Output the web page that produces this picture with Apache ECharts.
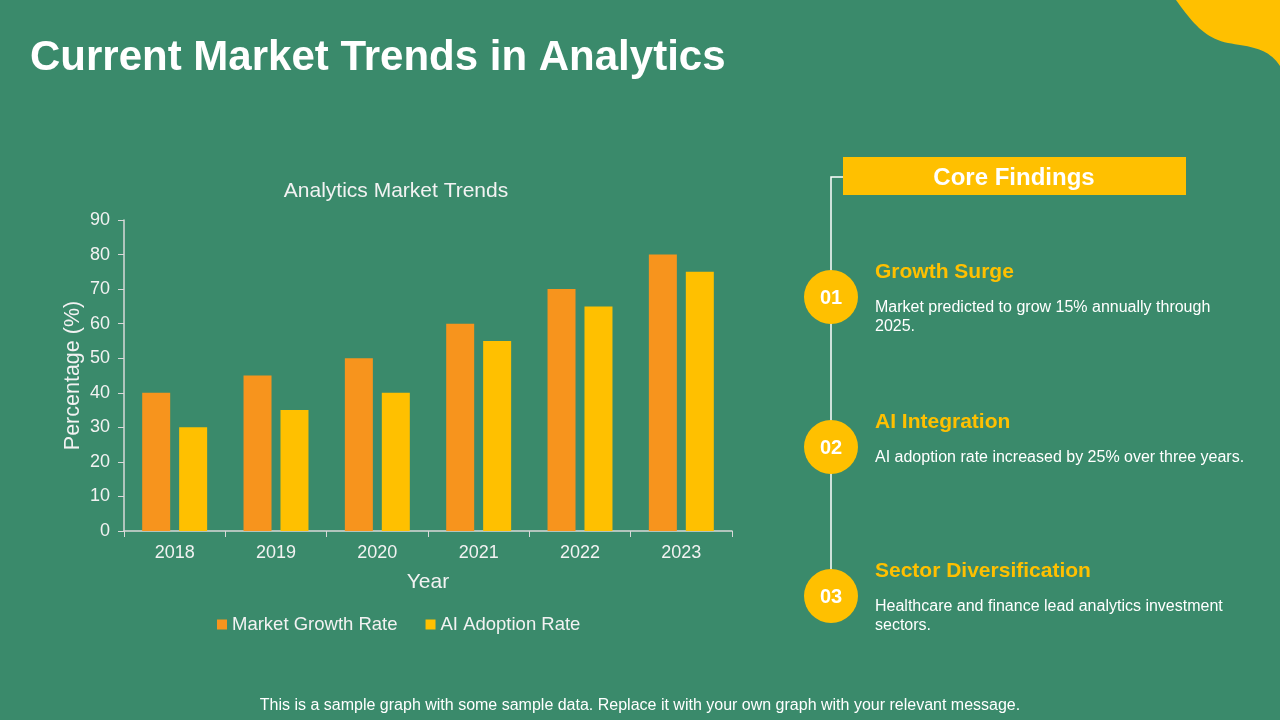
<!DOCTYPE html>
<html>
<head>
<meta charset="utf-8">
<style>
  html, body { margin: 0; padding: 0; background: #3a8a6b; }
  #main { width: 1280px; height: 720px; }
</style>
<script src="https://cdn.jsdelivr.net/npm/echarts@6/dist/echarts.min.js"></script>
</head>
<body>
<div id="main"></div>
<script>
// chart data
var years = ["2018", "2019", "2020", "2021", "2022", "2023"];
var marketGrowth = [40, 45, 50, 60, 70, 80];
var aiAdoption = [30, 35, 40, 55, 65, 75];
var seriesNames = ["Market Growth Rate", "AI Adoption Rate"];

// right panel text
var findingNums = ["01", "02", "03"];
var findingTitles = ["Growth Surge", "AI Integration", "Sector Diversification"];
var findingTexts = [
  "Market predicted to grow 15% annually through\n2025.",
  "AI adoption rate increased by 25% over three years.",
  "Healthcare and finance lead analytics investment\nsectors."
];

var orange = "#f7941d";
var yellow = "#ffc000";
var txt = "#f2f2f2";
var font = "Liberation Sans, Arial, sans-serif";

// corner blob outline (two cubic curves), sampled into a polygon
function cubic(p0, p1, p2, p3, n) {
  var pts = [];
  for (var k = 0; k <= n; k++) {
    var t = k / n, u = 1 - t;
    pts.push([
      u * u * u * p0[0] + 3 * u * u * t * p1[0] + 3 * u * t * t * p2[0] + t * t * t * p3[0],
      u * u * u * p0[1] + 3 * u * u * t * p1[1] + 3 * u * t * t * p2[1] + t * t * t * p3[1]
    ]);
  }
  return pts;
}
var blob = cubic([1176, 0], [1192, 22], [1204, 38], [1228, 43], 20)
  .concat(cubic([1228, 43], [1252, 47], [1268, 48], [1280, 66], 20))
  .concat([[1280, 0]]);

var chart = echarts.init(document.getElementById("main"));

var graphics = [
  {
    type: "polygon",
    shape: { points: blob },
    style: { fill: yellow }
  },
  {
    type: "text",
    left: 30, top: 37,
    style: { text: "Current Market Trends in Analytics", fill: "#ffffff", font: "bold 42px " + font }
  },
  {
    type: "text",
    x: 640, y: 706,
    style: { text: "This is a sample graph with some sample data. Replace it with your own graph with your relevant message.",
      fill: "#ffffff", font: "16px " + font, align: "center", verticalAlign: "middle" }
  },
  // timeline
  {
    type: "polyline",
    shape: { points: [[843, 177], [831, 177], [831, 596]] },
    style: { stroke: "#ffffff", lineWidth: 1.5, fill: null }
  },
  {
    type: "rect",
    shape: { x: 843, y: 157, width: 343, height: 38 },
    style: { fill: yellow }
  },
  {
    type: "text",
    x: 1014, y: 178,
    style: { text: "Core Findings", fill: "#ffffff", font: "bold 24px " + font, align: "center", verticalAlign: "middle" }
  }
];

var rowY = [297, 447, 596];
for (var i = 0; i < findingNums.length; i++) {
  graphics.push({
    type: "circle",
    shape: { cx: 831, cy: rowY[i], r: 27 },
    style: { fill: yellow }
  });
  graphics.push({
    type: "text",
    x: 831, y: rowY[i] + 1,
    style: { text: findingNums[i], fill: "#ffffff", font: "bold 20px " + font, align: "center", verticalAlign: "middle" }
  });
  graphics.push({
    type: "text",
    x: 875, y: rowY[i] - 25,
    style: { text: findingTitles[i], fill: yellow, font: "bold 21px " + font, verticalAlign: "middle" }
  });
  graphics.push({
    type: "text",
    x: 875, y: rowY[i] + 1,
    style: { text: findingTexts[i], fill: "#ffffff", font: "16px " + font, lineHeight: 19 }
  });
}

var option = {
  backgroundColor: "#3a8a6b",
  textStyle: { fontFamily: font },
  title: {
    text: "Analytics Market Trends",
    left: 391, top: 176,
    textAlign: "center",
    textStyle: { color: txt, fontSize: 21, fontWeight: "normal", fontFamily: font }
  },
  legend: {
    data: seriesNames,
    left: 212, top: 610,
    icon: "rect",
    itemWidth: 10, itemHeight: 10,
    itemGap: 28,
    textStyle: { color: txt, fontSize: 18.5, fontFamily: font }
  },
  grid: { left: 124, right: 548, top: 220, bottom: 189 },
  xAxis: {
    type: "category",
    data: years,
    name: "Year",
    nameLocation: "middle",
    nameGap: 41,
    nameTextStyle: { color: txt, fontSize: 21 },
    axisLine: { lineStyle: { color: "#d9d9d9", width: 1.5 } },
    axisTick: { show: true, length: 6, lineStyle: { color: "#d9d9d9" } },
    axisLabel: { color: txt, fontSize: 18, margin: 13 }
  },
  yAxis: {
    type: "value",
    min: 0, max: 90, interval: 10,
    name: "Percentage (%)",
    nameLocation: "middle",
    nameGap: 40,
    nameRotate: 90,
    nameTextStyle: { color: txt, fontSize: 21.5 },
    axisLine: { show: true, lineStyle: { color: "#d9d9d9", width: 1.5 } },
    axisTick: { show: true, length: 6, lineStyle: { color: "#d9d9d9" } },
    axisLabel: { color: txt, fontSize: 18, margin: 14 },
    splitLine: { show: false }
  },
  series: [
    {
      name: seriesNames[0],
      type: "bar",
      data: marketGrowth,
      barWidth: 28,
      barGap: "32%",
      itemStyle: { color: orange }
    },
    {
      name: seriesNames[1],
      type: "bar",
      data: aiAdoption,
      barWidth: 28,
      barGap: "32%",
      itemStyle: { color: yellow }
    }
  ],
  graphic: graphics
};

chart.setOption(option);
window.addEventListener("resize", function () {
  chart.resize();
});
</script>
</body>
</html>
